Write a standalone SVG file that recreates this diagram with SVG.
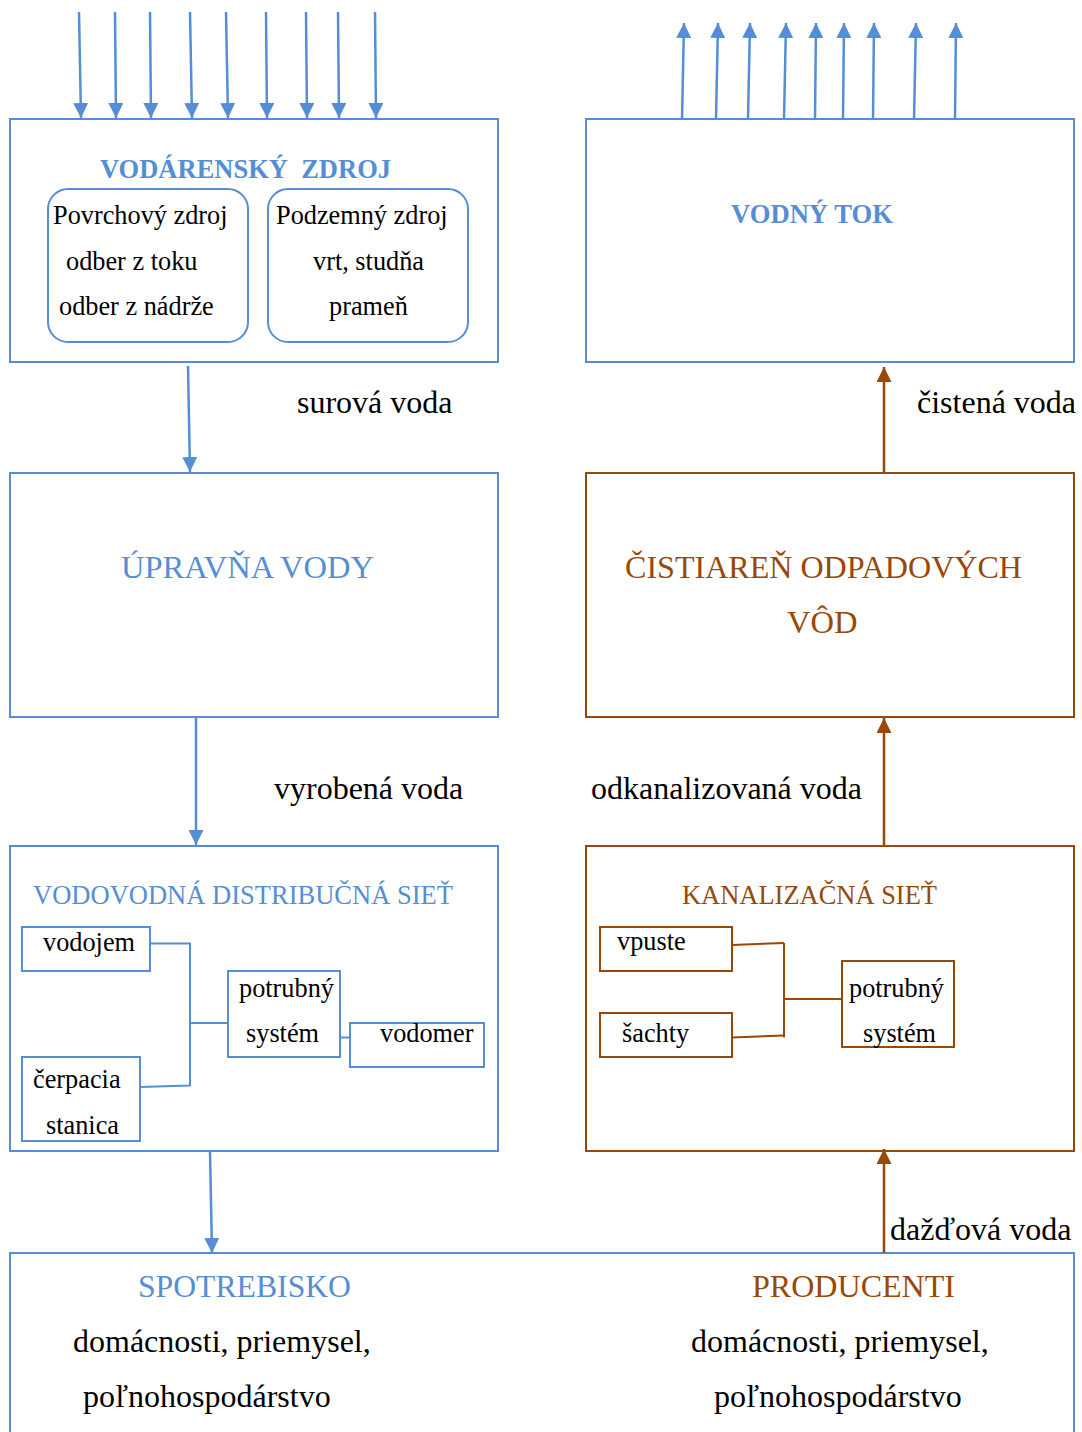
<svg xmlns="http://www.w3.org/2000/svg" width="1082" height="1432" viewBox="0 0 1082 1432">
<style>
text{font-family:"Liberation Serif","Times New Roman",Times,serif;fill:#000}
.s{font-size:26.3px}
.t{font-size:26.8px}
.l{font-size:32px}
.L{font-size:32.6px}
.b{font-weight:bold}
.blue{fill:#558ED5}
.brown{fill:#984807}
.bx{fill:none;stroke:#558ED5;stroke-width:2}
.rx{fill:none;stroke:#984807;stroke-width:2}
.cb{fill:none;stroke:#558ED5;stroke-width:2}
.cr{fill:none;stroke:#984807;stroke-width:2}
.ab{stroke:#558ED5;stroke-width:2.5;fill:none;marker-end:url(#mb)}
.ar{stroke:#984807;stroke-width:2.5;fill:none;marker-end:url(#mr)}
</style>
<defs>
<marker id="mb" markerUnits="userSpaceOnUse" markerWidth="15" markerHeight="15" refX="15" refY="7.5" orient="auto"><path d="M0,0 L15,7.5 L0,15 z" fill="#558ED5"/></marker>
<marker id="mr" markerUnits="userSpaceOnUse" markerWidth="15" markerHeight="15" refX="15" refY="7.5" orient="auto"><path d="M0,0 L15,7.5 L0,15 z" fill="#984807"/></marker>
</defs>
<rect width="1082" height="1432" fill="#fff"/>

<g id="vodarensky-zdroj">
<rect class="bx" x="10" y="119" width="488" height="243"/>
<text class="t b blue" x="100" y="178" xml:space="preserve" textLength="291" lengthAdjust="spacingAndGlyphs">VODÁRENSKÝ  ZDROJ</text>
<rect class="bx" x="48" y="189" width="200" height="153" rx="20"/>
<text class="s" x="53" y="224">Povrchový zdroj</text>
<text class="s" x="66" y="270">odber z toku</text>
<text class="s" x="59" y="315">odber z nádrže</text>
<rect class="bx" x="268" y="189" width="200" height="153" rx="20"/>
<text class="s" x="276" y="224">Podzemný zdroj</text>
<text class="s" x="313" y="270">vrt, studňa</text>
<text class="s" x="329" y="315">prameň</text>
</g>

<g id="vodny-tok">
<rect class="bx" x="586" y="119" width="488" height="243"/>
<text class="t b blue" x="731" y="223" textLength="162" lengthAdjust="spacingAndGlyphs">VODNÝ TOK</text>
</g>

<g id="upravna-vody">
<rect class="bx" x="10" y="473" width="488" height="244"/>
<text class="L blue" x="121" y="578" textLength="253" lengthAdjust="spacingAndGlyphs">ÚPRAVŇA VODY</text>
</g>

<g id="cistiaren">
<rect class="rx" x="586" y="473" width="488" height="244"/>
<text class="L brown" x="625" y="578" textLength="397" lengthAdjust="spacingAndGlyphs">ČISTIAREŇ ODPADOVÝCH</text>
<text class="L brown" x="787" y="633">VÔD</text>
</g>

<g id="distribucna-siet">
<rect class="bx" x="10" y="846" width="488" height="305"/>
<text class="t blue" x="33" y="904" textLength="420" lengthAdjust="spacingAndGlyphs">VODOVODNÁ DISTRIBUČNÁ SIEŤ</text>
<rect class="cb" x="22" y="927" width="128" height="44"/>
<text class="s" x="43" y="951">vodojem</text>
<rect class="cb" x="22" y="1057" width="118" height="84"/>
<text class="s" x="33" y="1088">čerpacia</text>
<text class="s" x="46" y="1134">stanica</text>
<rect class="cb" x="228" y="971" width="112" height="86"/>
<text class="s" x="239" y="997">potrubný</text>
<text class="s" x="246" y="1042">systém</text>
<rect class="cb" x="350" y="1023" width="134" height="44"/>
<text class="s" x="380" y="1042">vodomer</text>
</g>

<g id="kanalizacna-siet">
<rect class="rx" x="586" y="846" width="488" height="305"/>
<text class="t brown" x="682" y="904" textLength="255" lengthAdjust="spacingAndGlyphs">KANALIZAČNÁ SIEŤ</text>
<rect class="cr" x="600" y="927" width="132" height="44"/>
<text class="s" x="617" y="950">vpuste</text>
<rect class="cr" x="600" y="1013" width="132" height="44"/>
<text class="s" x="622" y="1042">šachty</text>
<rect class="cr" x="842" y="961" width="112" height="86"/>
<text class="s" x="849" y="997">potrubný</text>
<text class="s" x="863" y="1042">systém</text>
</g>

<g id="spotrebisko-producenti">
<rect class="bx" x="10" y="1253" width="1064" height="200"/>
<text class="l blue" x="138" y="1297" textLength="213" lengthAdjust="spacingAndGlyphs">SPOTREBISKO</text>
<text class="l" x="73" y="1352">domácnosti, priemysel,</text>
<text class="l" x="83" y="1407">poľnohospodárstvo</text>
<text class="l brown" x="752" y="1297" textLength="203" lengthAdjust="spacingAndGlyphs">PRODUCENTI</text>
<text class="l" x="691" y="1352">domácnosti, priemysel,</text>
<text class="l" x="714" y="1407">poľnohospodárstvo</text>
</g>

<g id="connectors">
<path class="ab" d="M79,12 L81,118"/>
<path class="ab" d="M115,12 L116,118"/>
<path class="ab" d="M150,12 L151,118"/>
<path class="ab" d="M190,12 L192,118"/>
<path class="ab" d="M226,12 L228,118"/>
<path class="ab" d="M266,12 L267,118"/>
<path class="ab" d="M306,12 L307,118"/>
<path class="ab" d="M338,12 L339,118"/>
<path class="ab" d="M375,12 L376,118"/>

<path class="ab" d="M682,119 L684,23"/>
<path class="ab" d="M716,119 L718,23"/>
<path class="ab" d="M748,119 L750,23"/>
<path class="ab" d="M784,119 L786,23"/>
<path class="ab" d="M815,119 L816,23"/>
<path class="ab" d="M843,119 L844,23"/>
<path class="ab" d="M873,119 L874,23"/>
<path class="ab" d="M914,119 L916,23"/>
<path class="ab" d="M955,119 L956,23"/>

<path class="ab" d="M188,366 L190,472"/>
<text class="l" x="297" y="413">surová voda</text>
<path class="ar" d="M884,473 L884,367"/>
<text class="l" x="917" y="413">čistená voda</text>
<path class="ab" d="M196,717 L196,845"/>
<text class="l" x="274" y="799">vyrobená voda</text>
<path class="ar" d="M884,846 L884,718"/>
<text class="l" x="591" y="799">odkanalizovaná voda</text>
<path class="ab" d="M210,1152 L212,1253"/>
<path class="ar" d="M884,1253 L884,1149"/>
<text class="l" x="890" y="1240">dažďová voda</text>

<path class="cb" d="M150,943.5 L190,943.5 L190,1085.5 L140,1087"/>
<path class="cb" d="M190,1023 L228,1023"/>
<path class="cb" d="M340,1037.5 L350,1037.5"/>

<path class="cr" d="M732,945 L784,943"/>
<path class="cr" d="M784,943 L784,1037.5"/>
<path class="cr" d="M732,1037.5 L784,1035.5"/>
<path class="cr" d="M784,999 L842,999"/>
</g>
</svg>
